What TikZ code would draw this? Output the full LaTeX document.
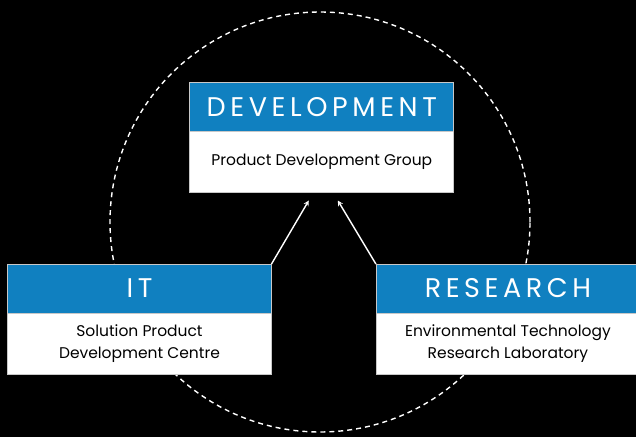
\documentclass[tikz,border=0pt]{standalone}
\usepackage{fontspec}
\setmainfont{Poppins}
\newfontfamily\headfont[LetterSpace=17]{Poppins}
\usepackage{tikz}
\usetikzlibrary{arrows,positioning}

\definecolor{unitblue}{RGB}{16,128,192}
\definecolor{edgegray}{RGB}{200,200,200}

\tikzset{
  head/.style={fill=unitblue,draw=edgegray,line width=0.8pt,text=white,
    minimum width=264pt,minimum height=49pt,inner sep=0pt,outer sep=0pt,
    font=\headfont\fontsize{27}{30}\selectfont},
  body/.style={fill=white,draw=edgegray,line width=0.8pt,text=black,
    minimum width=264pt,minimum height=61pt,inner sep=0pt,outer sep=0pt,
    align=center,font=\fontsize{15.5}{22}\selectfont},
}

\begin{document}
\begin{tikzpicture}[x=1pt,y=1pt,>=stealth]
	\useasboundingbox (0,0) rectangle (636,437);
	\fill[black] (0,0) rectangle (636,437);
	
	% gestrichelter Kreis
	\draw[white,line width=1.4pt,dash pattern=on 5pt off 4pt] (320,215) circle (210);
	
	% Kästen
	\node[head] (dev) at (321.8,330) {DEVELOPMENT};
	\node[body,below=0pt of dev] (devbody) {Product Development Group};
	
	\node[head] (it) at (139.5,148.5) {IT};
	\node[body,below=0pt of it] (itbody) {Solution Product\\Development Centre};
	
	\node[head] (res) at (507.9,148.5) {RESEARCH};
	\node[body,below=0pt of res] (resbody) {Environmental Technology\\Research Laboratory};
	
	% Pfeile
	\coordinate[below left=8pt and 13pt of devbody.south] (tipl);
	\coordinate[below right=8pt and 16pt of devbody.south] (tipr);
	\draw[->,white,line width=1.4pt] (it.north east) -- (tipl);
	\draw[->,white,line width=1.4pt] (res.north west) -- (tipr);
	
\end{tikzpicture}
\end{document}
